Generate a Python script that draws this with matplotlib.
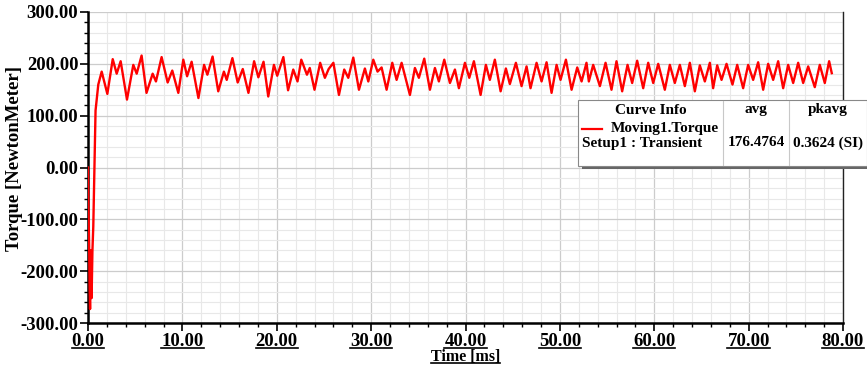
import numpy as np

import matplotlib
matplotlib.use('agg')

from matplotlib import pyplot as plt
from matplotlib.patches import Rectangle
from matplotlib.lines import Line2D
from matplotlib.ticker import MultipleLocator, FormatStrFormatter

plt.rcParams['font.family'] = ['Liberation Serif', 'DejaVu Serif']
plt.rcParams['font.weight'] = 'bold'
plt.rcParams['axes.unicode_minus'] = False

# Moving1.Torque, transient solution
time_ms = [
    0.0, 0.05, 0.12, 0.17, 0.22, 0.30, 0.38, 0.47, 0.56, 0.66, 0.72, 0.80, 0.95, 1.09,
    1.45, 2.05, 2.62, 3.04, 3.46, 4.13, 4.80, 5.16, 5.68, 6.20, 6.85, 7.20, 7.80, 8.44,
    8.93, 9.57, 10.10, 10.50, 10.98, 11.70, 12.30, 12.65, 13.20, 13.80, 14.40, 14.70,
    15.30, 15.86, 16.40, 17.00, 17.60, 18.05, 18.60, 19.10, 19.70, 20.05, 20.70, 21.20,
    21.75, 22.20, 22.60, 23.20, 23.50, 24.00, 24.60, 25.10, 25.50, 26.00, 26.59, 27.15,
    27.58, 28.11, 28.71, 29.34, 29.70, 30.23, 30.68, 31.11, 31.64, 32.24, 32.70, 33.23,
    34.11, 34.64, 35.06, 35.63, 36.23, 36.76, 37.18, 37.75, 38.35, 38.88, 39.30, 39.94,
    40.40, 40.89, 41.60, 42.16, 42.58, 43.11, 43.72, 44.28, 44.70, 45.34, 45.94, 46.47,
    46.89, 47.53, 48.06, 48.59, 49.12, 49.65, 50.07, 50.64, 51.24, 51.84, 52.30, 52.82,
    53.07, 53.53, 54.24, 54.84, 55.47, 56.00, 56.60, 57.17, 57.66, 58.19, 58.83, 59.36,
    59.89, 60.42, 61.12, 61.65, 62.18, 62.71, 63.24, 63.77, 64.30, 64.83, 65.36, 65.89,
    66.24, 66.67, 67.13, 67.66, 68.29, 68.79, 69.42, 69.95, 70.48, 71.01, 71.54, 72.07,
    72.60, 73.13, 73.66, 74.19, 74.72, 75.25, 75.78, 76.31, 77.01, 77.54, 78.07, 78.53,
    78.81,
]
torque = [
    0, -80, -150, -230, -273, -160, -252, -160, -114, -20, 40, 110, 135, 160,
    185, 142, 209, 181, 205, 131, 198, 181, 216, 144, 181, 166, 213, 164,
    187, 144, 208, 176, 204, 134, 198, 179, 214, 147, 185, 169,
    211, 164, 190, 144, 205, 174, 204, 137, 198, 177, 213, 149,
    189, 166, 208, 179, 192, 150, 202, 173, 190, 202, 140, 189,
    173, 212, 150, 191, 166, 208, 185, 193, 150, 202, 169, 202,
    140, 192, 173, 210, 150, 192, 166, 208, 163, 189, 153, 202,
    173, 205, 140, 198, 169, 208, 147, 191, 161, 202, 157, 195,
    153, 202, 166, 203, 144, 198, 169, 208, 150, 193, 166, 202,
    166, 198, 157, 202, 150, 205, 147, 198, 163, 206, 153, 202,
    163, 200, 150, 198, 163, 198, 157, 202, 147, 197, 166, 202,
    153, 197, 169, 200, 160, 198, 153, 198, 169, 203, 150, 200,
    169, 205, 153, 198, 163, 202, 163, 195, 155, 198, 163, 205,
    182,
]

W, H = 867, 369


def fx(px):
    return px / W


def fy(py):
    return 1 - py / H


fig = plt.figure(figsize=(W / 100, H / 100), dpi=100)
ax = fig.add_axes([fx(88), fy(323), (843 - 88) / W, (323 - 12) / H])

ax.plot(time_ms, torque, color='#ff0000', lw=1.7, zorder=3)

ax.set_xlim(0, 80)
ax.set_ylim(-300, 300)
ax.xaxis.set_major_locator(MultipleLocator(10))
ax.xaxis.set_minor_locator(MultipleLocator(2))
ax.yaxis.set_major_locator(MultipleLocator(100))
ax.yaxis.set_minor_locator(MultipleLocator(20))
ax.xaxis.set_major_formatter(FormatStrFormatter('%.2f'))
ax.yaxis.set_major_formatter(FormatStrFormatter('%.2f'))

ax.grid(which='major', color='#cccccc', lw=0.9)
ax.grid(which='minor', color='#e8e8e8', lw=0.8)
ax.set_axisbelow(True)

ax.tick_params(which='major', length=6, width=1.2, labelsize=13.5, pad=1)
ax.tick_params(which='minor', length=3, width=1.0)
ax.tick_params(axis='x', which='major', pad=1.5)

for side in ('left', 'bottom'):
    ax.spines[side].set_linewidth(1.8)
ax.spines['right'].set_linewidth(1.0)
ax.spines['right'].set_color('#222222')
ax.spines['top'].set_visible(False)

ax.set_xlabel('Time [ms]', fontsize=11.5, fontweight='bold')
ax.set_ylabel('Torque [NewtonMeter]', fontsize=13.5, fontweight='bold')
ax.xaxis.set_label_coords(0.5, -0.083)
ax.yaxis.set_label_coords(-0.086, 0.53)

# curve info table
fig.patches.append(Rectangle((fx(582), fy(169)), 286 / W, 66 / H,
                             transform=fig.transFigure, facecolor='#666666',
                             edgecolor='none', zorder=5))
fig.patches.append(Rectangle((fx(578), fy(166)), 289 / W, 66 / H,
                             transform=fig.transFigure, facecolor='white',
                             edgecolor='#888888', lw=0.8, zorder=6))
for px in (723, 789):
    fig.lines.append(Line2D([fx(px), fx(px)], [fy(101), fy(165)],
                            transform=fig.transFigure, color='#c8c8c8', lw=0.8, zorder=7))
fig.lines.append(Line2D([fx(582), fx(602)], [fy(128.5), fy(128.5)],
                        transform=fig.transFigure, color='#ff0000', lw=1.6, zorder=7))

tkw = dict(fontsize=11, fontweight='bold', va='center', zorder=8)
fig.text(fx(651), fy(110), 'Curve Info', ha='center', **tkw)
fig.text(fx(756), fy(110), 'avg', ha='center', **tkw)
fig.text(fx(828), fy(110), 'pkavg', ha='center', **tkw)
fig.text(fx(611), fy(128.5), 'Moving1.Torque', ha='left', **tkw)
fig.text(fx(582), fy(143), 'Setup1 : Transient', ha='left', **tkw)
fig.text(fx(756), fy(143), '176.4764', ha='center', **tkw)
fig.text(fx(828), fy(143), '0.3624 (SI)', ha='center', **tkw)

# underline x tick labels and the x label
fig.canvas.draw()
renderer = fig.canvas.get_renderer()
lo, hi = ax.get_xlim()
labels = [t for t in ax.get_xticklabels()
          if t.get_text() and lo <= t.get_position()[0] <= hi]
for t in labels + [ax.xaxis.label]:
    bb = t.get_window_extent(renderer)
    yy = (bb.y0 + 2) / H
    fig.lines.append(Line2D([bb.x0 / W, bb.x1 / W], [yy, yy],
                            transform=fig.transFigure, color='black', lw=1.2))

fig.savefig('out.png', dpi=100)
